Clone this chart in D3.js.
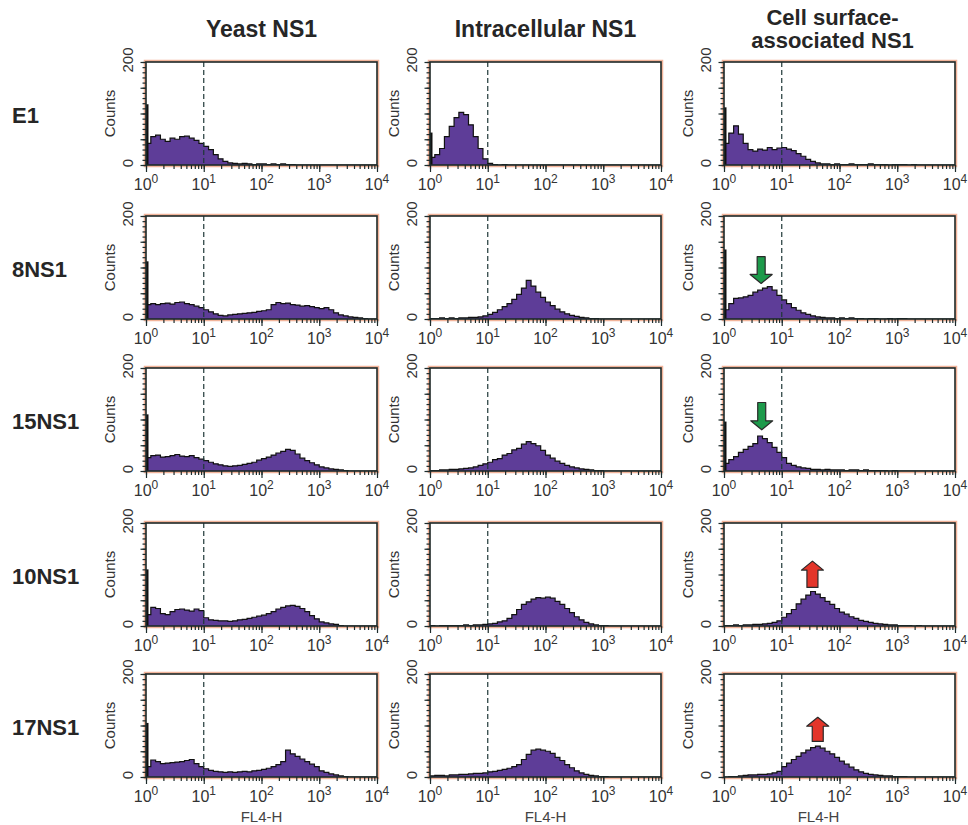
<!DOCTYPE html>
<html>
<head>
<meta charset="utf-8">
<script src="https://cdn.jsdelivr.net/npm/d3@7"></script>
<style>
  body { margin: 0; background: #fff; }
  svg { font-family: "Liberation Sans", Arial, Helvetica, sans-serif; }
</style>
</head>
<body>
<svg id="chart" width="968" height="825"></svg>
<script>
// ---- data ----
const samples = ['E1', '8NS1', '15NS1', '10NS1', '17NS1'];
const stainTitles = [['Yeast NS1'], ['Intracellular NS1'], ['Cell surface-', 'associated NS1']];
const xTickValues = [1, 10, 100, 1000, 10000];
const xTickExponents = ['0', '1', '2', '3', '4'];
const yTickLabels = [0, 200];
const gateValue = 10;
const binsPerDecade = 12;   // 4 decades -> 48 bins per histogram
const xAxisTitle = 'FL4-H';
const yAxisTitle = 'Counts';

// counts per bin, one array per sample (rows E1, 8NS1, 15NS1, 10NS1, 17NS1)
const yeastCounts = [
  [42,55,58,50,46,52,50,55,56,52,48,42, 36,30,20,12,7,4,3,2,3,2,1,2, 2,1,2,1,2,1,1,0,0,0,0,0, 0,0,0,0,0,0,0,0,0,0,0,0],
  [28,30,28,30,31,29,32,33,30,28,25,22, 18,14,10,7,6,8,9,10,11,12,13,15, 16,18,28,32,30,31,28,27,25,26,24,22, 20,22,18,12,8,6,4,3,2,1,0,0],
  [26,30,31,27,28,30,32,29,28,30,26,23, 20,17,14,12,10,9,10,11,13,15,17,21, 24,27,31,35,38,42,40,33,25,20,16,12, 8,6,4,3,2,1,0,0,0,0,0,0],
  [22,36,34,24,22,28,32,33,31,29,33,30, 16,12,11,10,10,9,10,12,13,15,17,19, 21,24,28,33,36,39,40,38,34,28,20,14, 8,6,4,3,1,0,0,0,0,0,0,0],
  [20,33,30,26,27,28,29,30,32,34,26,20, 16,13,11,10,9,10,9,10,11,10,12,13, 15,17,20,24,30,52,45,40,35,30,25,20, 12,9,6,4,2,1,0,0,0,0,0,0]
];
const intraCounts = [
  [15,20,32,55,75,92,102,98,78,55,32,12, 3,1,0,1,0,0,0,0,0,0,0,0, 0,0,0,0,0,0,0,0,0,0,0,0, 0,0,0,0,0,0,0,0,0,0,0,0],
  [1,1,2,1,2,1,2,2,3,3,4,6, 9,13,18,24,30,38,48,60,75,64,52,42, 33,26,19,14,10,7,5,3,2,1,1,0, 0,0,0,0,0,0,0,0,0,0,0,0],
  [1,1,2,2,3,3,4,5,6,8,11,14, 17,22,24,31,34,41,44,52,57,53,49,40, 31,25,19,15,11,8,6,4,3,2,1,1, 0,0,0,0,0,0,0,0,0,0,0,0],
  [1,0,1,1,1,1,1,2,1,2,2,3, 4,5,8,10,15,22,32,42,47,52,55,54, 56,54,48,42,34,26,18,12,7,4,2,1, 1,0,0,0,0,0,0,0,0,0,0,0],
  [2,3,3,2,4,4,5,5,6,7,7,8, 10,11,13,15,17,20,24,34,44,52,54,52, 50,46,38,32,24,18,12,8,5,3,2,1, 1,0,0,0,0,0,0,0,0,0,0,0]
];
const surfaceCounts = [
  [42,62,76,60,42,30,27,31,29,34,30,33, 34,31,28,22,17,11,7,4,2,2,1,2, 1,1,2,1,1,1,2,1,1,1,0,1, 1,1,0,1,0,0,0,0,0,0,0,0],
  [18,30,40,41,43,46,52,56,60,63,56,46, 37,30,22,17,12,9,6,4,3,2,2,1, 2,1,2,1,1,0,1,1,0,0,1,0, 1,1,0,0,0,0,0,0,0,0,0,0],
  [15,22,28,36,42,48,53,68,63,55,46,36, 26,15,11,8,6,5,3,3,2,3,2,2, 2,1,2,2,1,2,1,1,1,1,0,1, 0,0,0,0,0,0,0,0,0,0,0,0],
  [1,1,2,1,2,2,3,3,4,5,7,10, 17,24,32,43,52,60,67,62,55,48,42,34, 27,23,18,15,11,9,7,5,4,3,2,2, 1,1,1,0,1,0,0,0,0,0,0,0],
  [0,1,1,2,3,4,4,5,5,6,8,11, 20,27,34,40,47,52,57,60,56,50,45,38, 31,25,19,14,10,7,5,4,3,2,2,1, 1,1,0,0,0,0,0,0,0,0,0,0]
];
// off-scale pile-up in the first channel: [yeast, intracellular, surface] per sample
const spikeCounts = [[118, 63, 112], [112, 0, 135], [110, 0, 96], [110, 0, 0], [105, 0, 0]];

// arrows in the surface column
const arrowRows = [1, 2, 3, 4];
const arrowValues = [4.4, 4.5, 34, 42];
const arrowTail = [121, 133, 75, 69];
const arrowTip = [69, 80, 126, 116];
const arrowKind = ['down', 'down', 'up', 'up'];

// ---- layout & style ----
const colLeft = [146, 430, 724];
const rowTop = [62, 216, 368, 523, 674];
const panelW = 231, panelH = 103;
const titleDx = [0, 0, -7];
const xTitleDx = [0, 0, -21];
const fillColor = '#5e3d98';
const inkColor = '#1d2b2b';
const arrowFill = {down: '#1d9a4b', up: '#e3352a'};

const svg = d3.select('#chart');
const countSets = [yeastCounts, intraCounts, surfaceCounts];

const x = d3.scaleLog().domain([1, 10000]).range([0, panelW]);
const y = d3.scaleLinear().domain([0, 200]).range([panelH, 0]);
const edges = d3.range(4 * binsPerDecade + 1).map(i => Math.pow(10, i / binsPerDecade));

const area = d3.area()
  .curve(d3.curveStepAfter)
  .x(d => x(d[0]))
  .y0(panelH)
  .y1(d => y(d[1]));
const line = d3.line()
  .curve(d3.curveStepAfter)
  .x(d => x(d[0]))
  .y(d => y(d[1]));

// column titles
stainTitles.forEach((lines, c) => {
  const cx = colLeft[c] + panelW / 2 + titleDx[c];
  const single = lines.length === 1;
  const base = single ? 37 : 25;
  lines.forEach((t, k) => {
    svg.append('text')
      .attr('x', cx)
      .attr('y', base + k * 23)
      .attr('text-anchor', 'middle')
      .attr('font-size', single ? 23 : 22)
      .attr('font-weight', 'bold')
      .attr('fill', '#262626')
      .text(t);
  });
});

// row labels
samples.forEach((s, r) => {
  svg.append('text')
    .attr('x', 12)
    .attr('y', rowTop[r] + panelH / 2 + 9)
    .attr('font-size', 22)
    .attr('font-weight', 'bold')
    .attr('fill', '#262626')
    .text(s);
});

samples.forEach((s, r) => {
  countSets.forEach((set, c) => {
    const g = svg.append('g')
      .attr('transform', `translate(${colLeft[c]},${rowTop[r]})`);
    const counts = set[r];
    const pts = counts.map((v, i) => [edges[i], v]);
    pts.push([edges[edges.length - 1], counts[counts.length - 1]]);

    const clipId = `clip-${r}-${c}`;
    g.append('clipPath').attr('id', clipId)
      .append('rect').attr('width', panelW).attr('height', panelH);

    // salmon fringe behind the frame
    g.append('rect')
      .attr('x', -1).attr('y', -1)
      .attr('width', panelW + 2).attr('height', panelH + 2)
      .attr('fill', 'none')
      .attr('stroke', '#f2b49a')
      .attr('stroke-width', 2.5);

    const plot = g.append('g').attr('clip-path', `url(#${clipId})`);
    plot.append('path')
      .datum(pts)
      .attr('d', area)
      .attr('fill', fillColor);
    plot.append('path')
      .datum(pts)
      .attr('d', line)
      .attr('fill', 'none')
      .attr('stroke', '#111')
      .attr('stroke-width', 1.2);

    // first-channel pile-up
    const spike = spikeCounts[r][c];
    if (spike > 0) {
      plot.append('rect')
        .attr('x', x(1))
        .attr('y', y(spike))
        .attr('width', 2.5)
        .attr('height', panelH - y(spike))
        .attr('fill', '#111');
    }

    // gate line
    g.append('line')
      .attr('x1', x(gateValue)).attr('x2', x(gateValue))
      .attr('y1', 0).attr('y2', panelH)
      .attr('stroke', '#1f3838')
      .attr('stroke-width', 1.2)
      .attr('stroke-dasharray', '5,3');

    // frame
    g.append('rect')
      .attr('width', panelW).attr('height', panelH)
      .attr('fill', 'none')
      .attr('stroke', inkColor)
      .attr('stroke-width', 1.6);

    // x axis ticks (minor and decades)
    const xMinor = g.append('g')
      .attr('transform', `translate(0,${panelH})`)
      .call(d3.axisBottom(x).tickValues(x.ticks()).tickSize(4).tickFormat(''));
    const xMajor = g.append('g')
      .attr('transform', `translate(0,${panelH})`)
      .call(d3.axisBottom(x).tickValues(xTickValues).tickSize(7).tickFormat(''));
    [xMinor, xMajor].forEach(a => {
      a.select('.domain').remove();
      a.selectAll('line').attr('stroke', inkColor).attr('stroke-width', 1.2);
    });

    xTickValues.forEach((v, i) => {
      const t = g.append('text')
        .attr('x', x(v))
        .attr('y', panelH + 25)
        .attr('text-anchor', 'middle')
        .attr('fill', '#333')
        .attr('font-size', 16);
      t.append('tspan').text('10');
      t.append('tspan').attr('dy', -7).attr('font-size', 12).text(xTickExponents[i]);
    });

    // y axis ticks
    const yMinor = g.append('g')
      .call(d3.axisLeft(y).tickValues(d3.range(0, 201, 10)).tickSize(3.5).tickFormat(''));
    const yMajor = g.append('g')
      .call(d3.axisLeft(y).tickValues(d3.range(0, 201, 50)).tickSize(5.5).tickFormat(''));
    [yMinor, yMajor].forEach(a => {
      a.select('.domain').remove();
      a.selectAll('line').attr('stroke', inkColor).attr('stroke-width', 1.2);
    });

    yTickLabels.forEach(v => {
      g.append('text')
        .attr('transform', `translate(-13,${y(v) - 2}) rotate(-90)`)
        .attr('text-anchor', 'middle')
        .attr('fill', '#333')
        .attr('font-size', 15)
        .text(v);
    });

    g.append('text')
      .attr('transform', `translate(-31,${panelH / 2}) rotate(-90)`)
      .attr('text-anchor', 'middle')
      .attr('fill', '#333')
      .attr('font-size', 15)
      .text(yAxisTitle);

    if (r === samples.length - 1) {
      g.append('text')
        .attr('x', panelW / 2 + xTitleDx[c])
        .attr('y', panelH + 45)
        .attr('text-anchor', 'middle')
        .attr('fill', '#444')
        .attr('font-size', 15)
        .text(xAxisTitle);
    }
  });
});

// arrows over the surface histograms
arrowRows.forEach((r, i) => {
  const g = svg.append('g')
    .attr('transform', `translate(${colLeft[2]},${rowTop[r]})`);
  const cx = x(arrowValues[i]);
  const yTail = y(arrowTail[i]);
  const yTip = y(arrowTip[i]);
  const dir = yTip > yTail ? 1 : -1;
  const shaft = arrowKind[i] === 'down' ? 4 : 5.5;
  const head = 11;
  const headLen = 9;
  const yNeck = yTip - dir * headLen;
  const p = d3.path();
  p.moveTo(cx - shaft, yTail);
  p.lineTo(cx + shaft, yTail);
  p.lineTo(cx + shaft, yNeck);
  p.lineTo(cx + head, yNeck);
  p.lineTo(cx, yTip);
  p.lineTo(cx - head, yNeck);
  p.lineTo(cx - shaft, yNeck);
  p.closePath();
  g.append('path')
    .attr('d', p.toString())
    .attr('fill', arrowFill[arrowKind[i]])
    .attr('stroke', '#2a2a2a')
    .attr('stroke-width', 1.2)
    .attr('stroke-linejoin', 'round');
});
</script>
</body>
</html>
